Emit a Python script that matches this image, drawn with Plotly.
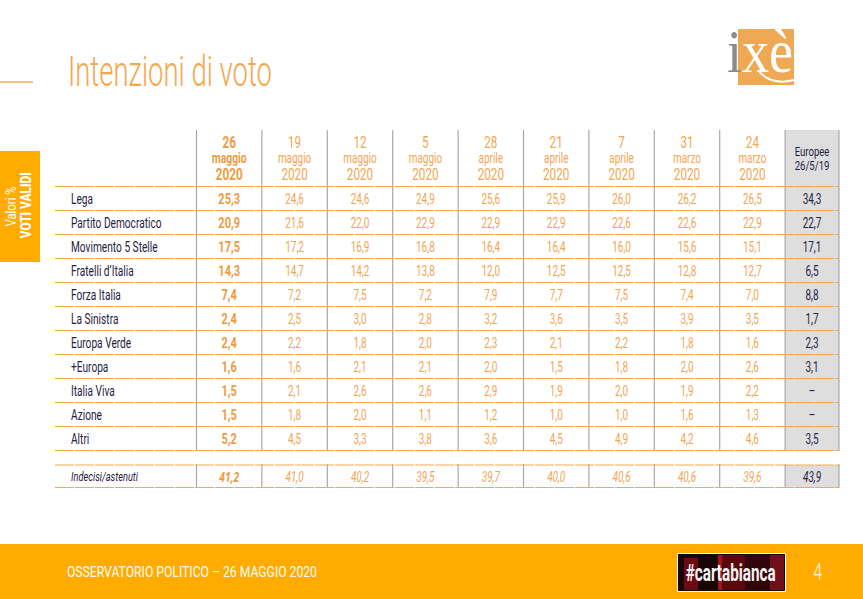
import plotly.graph_objects as go

# ---------- data ----------
parties = ["Lega", "Partito Democratico", "Movimento 5 Stelle", "Fratelli d’Italia", "Forza Italia",
           "La Sinistra", "Europa Verde", "+Europa", "Italia Viva", "Azione", "Altri"]
undecided_label = "Indecisi/astenuti"

poll_days = ["26", "19", "12", "5", "28", "21", "7", "31", "24"]
poll_months = ["maggio", "maggio", "maggio", "maggio", "aprile", "aprile", "aprile", "marzo", "marzo"]
poll_year = "2020"

may26 = [25.3, 20.9, 17.5, 14.3, 7.4, 2.4, 2.4, 1.6, 1.5, 1.5, 5.2]
may19 = [24.6, 21.6, 17.2, 14.7, 7.2, 2.5, 2.2, 1.6, 2.1, 1.8, 4.5]
may12 = [24.6, 22.0, 16.9, 14.2, 7.5, 3.0, 1.8, 2.1, 2.6, 2.0, 3.3]
may05 = [24.9, 22.9, 16.8, 13.8, 7.2, 2.8, 2.0, 2.1, 2.6, 1.1, 3.8]
apr28 = [25.6, 22.9, 16.4, 12.0, 7.9, 3.2, 2.3, 2.0, 2.9, 1.2, 3.6]
apr21 = [25.9, 22.9, 16.4, 12.5, 7.7, 3.6, 2.1, 1.5, 1.9, 1.0, 4.5]
apr07 = [26.0, 22.6, 16.0, 12.5, 7.5, 3.5, 2.2, 1.8, 2.0, 1.0, 4.9]
mar31 = [26.2, 22.6, 15.6, 12.8, 7.4, 3.9, 1.8, 2.0, 1.9, 1.6, 4.2]
mar24 = [26.5, 22.9, 15.1, 12.7, 7.0, 3.5, 1.6, 2.6, 2.2, 1.3, 4.6]
europee = [34.3, 22.7, 17.1, 6.5, 8.8, 1.7, 2.3, 3.1, None, None, 3.5]

undecided = [41.2, 41.0, 40.2, 39.5, 39.7, 40.0, 40.6, 40.6, 39.6]
undecided_europee = 43.9

polls = [may26, may19, may12, may05, apr28, apr21, apr07, mar31, mar24]

# ---------- styling ----------
NARROW = "Roboto"
ORANGE = "#F4A552"
STRONG = "#F09A3E"
BAR = "#FFAB00"
INK = "#1F2340"
GRID = "#F5A94A"
VLINE = "#A8A8A8"

col_edges = [196.5 + 65.4 * i for i in range(10)] + [839]
col_centers = [(a + b) / 2 for a, b in zip(col_edges[:-1], col_edges[1:])]
row_top = 186.5
row_h = 24
text_dy = 1.5
row_centers = [row_top + row_h * (i + .5) + text_dy for i in range(len(parties))]
extra_y = 476.5 + text_dy


def fmt(v):
    return "–" if v is None else f"{v:.1f}".replace(".", ",")


fig = go.Figure()


def text_trace(xs, ys, texts, size, color, bold=False, italic=False, position="middle center", family=NARROW):
    fig.add_trace(go.Scatter(
        x=xs, y=ys, text=texts, mode="text", textposition=position, hoverinfo="skip",
        textfont=dict(family=family, size=size, color=color,
                      weight="bold" if bold else "normal",
                      style="italic" if italic else "normal"),
        showlegend=False))


# header
for idx, (d, m) in enumerate(zip(poll_days, poll_months)):
    b = idx == 0
    c = STRONG if b else ORANGE
    x = col_centers[idx]
    text_trace([x], [143.5], [d], 16.5, c, b)
    text_trace([x], [159.5], [m], 14.5 if b else 14, c, b)
    text_trace([x], [175.5], [poll_year], 16.5, c, b)
text_trace([col_centers[9]], [152.5], ["Europee"], 13.5, INK)
text_trace([col_centers[9]], [167], ["26/5/19"], 13.5, INK)

# party labels
text_trace([71] * len(parties), row_centers, parties, 14.3, INK, position="middle right")
text_trace([71], [extra_y], [undecided_label], 13, INK, italic=True, position="middle right")

# poll columns
for idx, col in enumerate(polls):
    b = idx == 0
    c = STRONG if b else ORANGE
    text_trace([col_centers[idx]] * len(col), row_centers, [fmt(v) for v in col], 15.5 if b else 14, c, b)
    text_trace([col_centers[idx]], [extra_y], [fmt(undecided[idx])], 14.5 if b else 14, c, b, True,
               family="Open Sans" if b else NARROW)
text_trace([col_centers[9]] * len(europee), row_centers, [fmt(v) for v in europee], 14, INK)
text_trace([col_centers[9]], [extra_y], [fmt(undecided_europee)], 14, INK, italic=True)

shapes = []


def rect(x0, y0, x1, y1, fill, line=None, layer="below"):
    shapes.append(dict(type="rect", x0=x0, y0=y0, x1=x1, y1=y1, fillcolor=fill, layer=layer,
                       line=dict(width=1 if line else 0, color=line or fill)))


def seg(x0, y0, x1, y1, color, width=1, dash="solid"):
    shapes.append(dict(type="line", x0=x0, y0=y0, x1=x1, y1=y1, layer="below",
                       line=dict(color=color, width=width, dash=dash)))


# grey column, footer, sidebar
rect(col_edges[9], 130, 839, 451, "#DEDEDE")
rect(col_edges[9], 465, 839, 488, "#DEDEDE")
rect(0, 544, 863, 599, BAR)
rect(0, 151, 40, 262, BAR)
rect(738, 29, 794, 85, "#EFA955")

# grid
for x in col_edges:
    seg(x, 130, x, 451, VLINE, 1.2)
    seg(x, 464, x, 488, VLINE, 1.2)
for i in range(len(parties) + 1):
    y = row_top + row_h * i
    seg(55, y, 839, y, GRID, 1.2, "19px,1px")
for y in (465, 487.5):
    seg(55, y, 839, y, GRID, 1.2, "19px,1px")

# title rule
seg(0, 82, 33, 82, "#F5AE4E", 1.5)

# cartabianca badge
rect(677.5, 553.5, 785.5, 591.5, "#1A0506", "#FFFFFF")
rect(684, 558, 698, 590, "#6B0A10")
rect(718, 555, 722, 590, "#A0141C")
rect(722, 555, 745, 590, "#5A080C")
rect(745, 555, 770, 590, "#30060A")
rect(770, 555, 784, 590, "#70101A")

# logo swoosh
shapes.append(dict(type="path", path="M 758 70 Q 770 86 794 80", layer="above",
                   line=dict(color="#FFFFFF", width=2)))

fig.update_layout(shapes=shapes)

anns = [
    dict(x=170, y=71, text="Intenzioni di voto", size=42, color="#F4A84E", weight=300),
    dict(x=192, y=572, text="OSSERVATORIO POLITICO – 26 MAGGIO 2020", size=15, color="#FFFFFF"),
    dict(x=817, y=572, text="4", size=24, color="#FFFFFF", weight=300),
    dict(x=731, y=573, text="#cartabianca", size=24, color="#F2F2F2", weight=700),
    dict(x=11, y=207, text="Valori %", size=15, color="#FFFFFF", angle=-90),
    dict(x=26, y=206, text="VOTI VALIDI", size=15, color="#FFFFFF", angle=-90, weight=800),
    dict(x=760, y=51, text="<span style='color:#8C8C8C'>i</span>xè", size=62, color="#FFFFFF",
         family="Liberation Serif"),
]
fig.update_layout(annotations=[
    dict(x=a["x"], y=a["y"], text=a["text"], xref="x", yref="y", showarrow=False,
         xanchor="center", yanchor="middle", textangle=a.get("angle", 0),
         font=dict(family=a.get("family", NARROW), size=a["size"], color=a["color"], weight=a.get("weight", 400)))
    for a in anns])

fig.update_layout(
    width=863, height=599, margin=dict(l=0, r=0, t=0, b=0),
    paper_bgcolor="white", plot_bgcolor="white", showlegend=False,
    xaxis=dict(range=[0, 863], visible=False, fixedrange=True),
    yaxis=dict(range=[599, 0], visible=False, fixedrange=True),
)

# Roboto is wider than the slide's condensed face: narrow the glyphs in the browser.
condense = """
document.body.style.margin='0';
var widths={'Intenzioni di voto':204,'OSSERVATORIO POLITICO – 26 MAGGIO 2020':250,'#cartabianca':90,
 'Indecisi/astenuti':67,'Valori %':40,'VOTI VALIDI':66,'ixè':66,'4':9,'2020':0};
document.querySelectorAll('svg text').forEach(function(t){
  var s=t.textContent; var L=t.getComputedTextLength(); if(!L) return;
  var target=widths[s]?widths[s]:L*0.71;
  t.setAttribute('lengthAdjust','spacingAndGlyphs'); t.setAttribute('textLength',target);
});
"""
fig.write_html("out.html", config={"displayModeBar": False}, post_script=condense)
